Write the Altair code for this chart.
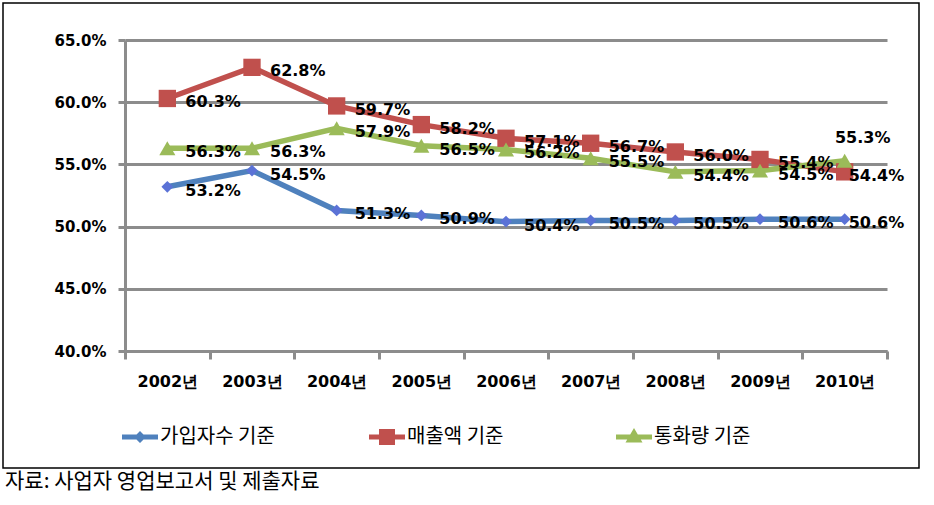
import altair as alt
import pandas as pd

# ---- data ----
years = ["2002년", "2003년", "2004년", "2005년", "2006년", "2007년", "2008년", "2009년", "2010년"]
series_names = ["가입자수 기준", "매출액 기준", "통화량 기준"]
subscribers = [53.2, 54.5, 51.3, 50.9, 50.4, 50.5, 50.5, 50.6, 50.6]
revenue = [60.3, 62.8, 59.7, 58.2, 57.1, 56.7, 56.0, 55.4, 54.4]
traffic = [56.3, 56.3, 57.9, 56.5, 56.2, 55.5, 54.4, 54.5, 55.3]
y_ticks = [40, 45, 50, 55, 60, 65]
source_note = "자료: 사업자 영업보고서 및 제출자료"

colors = ["#4F81BD", "#C0504D", "#9BBB59"]
marker_fill = ["#5B72D6", "#C0504D", "#9BBB59"]
marker_shape = ["diamond", "square", "triangle-up"]
marker_size = [140, 300, 260]
GRAY = "#8C8C8C"

rows = []
for name, vals in zip(series_names, [subscribers, revenue, traffic]):
    for yr, v in zip(years, vals):
        rows.append({"year": yr, "series": name, "value": v})
df = pd.DataFrame(rows)

W, H = 762, 311
PAD = {"left": 125, "top": 40, "right": 934 - 125 - W, "bottom": 505 - 40 - H}

x_enc = alt.X(
    "year:N",
    sort=years,
    scale=alt.Scale(type="band", paddingInner=0, paddingOuter=0),
    axis=alt.Axis(
        title=None, labelAngle=0, tickBand="extent", tickSize=8, tickWidth=3,
        tickColor=GRAY, domainColor=GRAY, domainWidth=3,
        labelFont="DejaVu Sans", labelFontWeight="bold", labelFontSize=16,
        labelColor="black", labelPadding=14, grid=False,
    ),
)
y_enc = alt.Y(
    "value:Q",
    scale=alt.Scale(domain=[40, 65], nice=False, zero=False),
    axis=alt.Axis(
        title=None, values=y_ticks, labelExpr="format(datum.value, '.1f') + '%'",
        grid=True, gridColor=GRAY, gridWidth=3, tickSize=7, tickWidth=3,
        tickColor=GRAY, domainColor=GRAY, domainWidth=3,
        labelFont="DejaVu Sans", labelFontWeight="bold", labelFontSize=15,
        labelColor="black", labelPadding=12,
    ),
)

base = alt.Chart(df).encode(x=x_enc, y=y_enc)

lines = base.mark_line(strokeWidth=5.5).encode(
    stroke=alt.Stroke("series:N", scale=alt.Scale(domain=series_names, range=colors), legend=None)
)

point_layers = []
for name, shp, sz, fc in zip(series_names, marker_shape, marker_size, marker_fill):
    point_layers.append(
        base.mark_point(filled=True, opacity=1, shape=shp, size=sz, fill=fc)
        .transform_filter(alt.datum.series == name)
    )

label_expr = "format(datum.value, '.1f') + '%'"
is_special = "datum.series == '통화량 기준' && datum.year == '2010년'"
is_last = "datum.year == '2010년'"
text_style = dict(baseline="middle", font="DejaVu Sans", fontWeight="bold", fontSize=16, color="black")

labels = base.mark_text(align="left", dx=18, dy=4, **text_style).transform_calculate(
    lbl=label_expr).transform_filter("!(" + is_last + ")").encode(text="lbl:N")

labels_last = base.mark_text(align="left", dx=4, dy=4, **text_style).transform_calculate(
    lbl=label_expr).transform_filter(is_last + " && !(" + is_special + ")").encode(text="lbl:N")

labels_above = base.mark_text(align="center", dx=18, dy=-23, **text_style).transform_calculate(
    lbl=label_expr).transform_filter(is_special).encode(text="lbl:N")

# legend symbols: a short line with the series marker on it
leg_paths = [
    "M-1.8,-0.25H1.8V0.25H-1.8Z M0,-0.6L0.6,0L0,0.6L-0.6,0Z",
    "M-1.8,-0.25H1.8V0.25H-1.8Z M-0.8,-0.8H0.8V0.8H-0.8Z",
    "M-1.8,-0.25H1.8V0.25H-1.8Z M0,-0.9L0.85,0.55L-0.85,0.55Z",
]
leg_props = dict(
    orient="none", legendX=5, legendY=387, direction="horizontal", columns=3,
    gridAlign="all", columnPadding=94, title=None, symbolSize=400,
    symbolStrokeWidth=0, symbolOpacity=1, labelFont="Noto Sans CJK KR", labelFontSize=20,
    labelColor="black", labelOffset=10, padding=0,
)
legend_layer = base.mark_point(filled=True, opacity=0, size=0).encode(
    color=alt.Color("series:N", scale=alt.Scale(domain=series_names, range=colors), legend=alt.Legend(**leg_props)),
    shape=alt.Shape("series:N", scale=alt.Scale(domain=series_names, range=leg_paths), legend=alt.Legend(**leg_props)),
)

note_df = pd.DataFrame({"t": [source_note]})
frame = alt.Chart(note_df).mark_rect(fill="transparent", stroke="black", strokeWidth=1.5).encode(
    x=alt.value(-122), x2=alt.value(794), y=alt.value(-37), y2=alt.value(428)
)
note = alt.Chart(note_df).mark_text(
    align="left", baseline="middle", font="Noto Sans CJK KR", fontSize=21, color="black"
).encode(text="t:N", x=alt.value(-120), y=alt.value(442))

chart = (
    alt.layer(frame, legend_layer, lines, *point_layers, labels, labels_last, labels_above, note)
    .properties(width=W, height=H, padding=PAD, autosize=alt.AutoSizeParams(type="none"), background="white")
    .configure_view(stroke=None)
)

chart.save("out.html", embed_options={"renderer": "svg", "actions": False})
